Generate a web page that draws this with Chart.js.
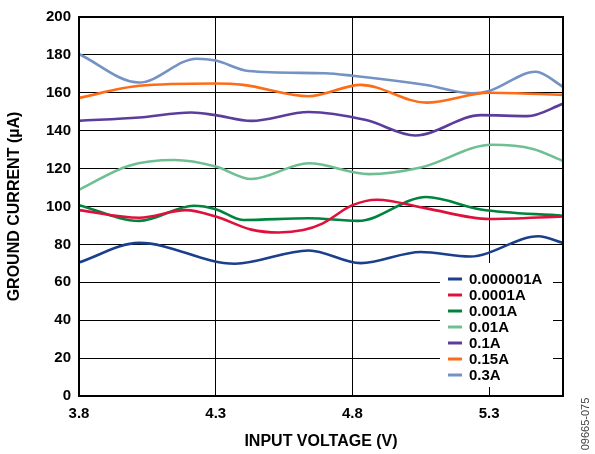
<!DOCTYPE html>
<html lang="en">
<head>
    <meta charset="UTF-8">
    <title>Ground Current vs Input Voltage</title>
    <script src="https://cdn.jsdelivr.net/npm/chart.js"></script>
    <style>
        body { margin: 0; background: #fff; }
        #wrap { width: 595px; height: 454px; }
    </style>
</head>
<body>
    <div id="wrap">
        <canvas id="gndChart" width="595" height="454"></canvas>
    </div>

    <script>
        // load currents (legend labels)
        var loadLabels = ['0.000001A', '0.0001A', '0.001A', '0.01A', '0.1A', '0.15A', '0.3A'];
        var lineColors = ['#1c3f8c', '#e0103c', '#00843d', '#6fbf92', '#5c3d9c', '#ff6c17', '#7492c4'];

        // x tick labels (V)
        var voltTicks = [3.8, 4.3, 4.8, 5.3];

        // input voltage (V) / ground current (uA)
        var v_1uA   = [3.8, 4.02, 4.37, 4.64, 4.83, 5.05, 5.23, 5.48, 5.57];
        var i_1uA   = [70.5, 80.8, 69.8, 76.8, 70.1, 76.0, 73.6, 84.3, 80.8];

        var v_100uA = [3.8, 4.02, 4.19, 4.3, 4.43, 4.53, 4.62, 4.69, 4.8, 4.89, 5.07, 5.3, 5.57];
        var i_100uA = [98.1, 94.1, 98.1, 94.7, 87.8, 86.3, 87.6, 91.0, 100.7, 103.6, 99.0, 93.4, 94.7];

        var v_1mA   = [3.8, 4.02, 4.22, 4.3, 4.4, 4.64, 4.82, 5.07, 5.27, 5.57];
        var i_1mA   = [100.7, 92.4, 100.4, 98.6, 92.9, 93.8, 92.4, 105.0, 98.4, 95.1];

        var v_10mA  = [3.8, 3.98, 4.15, 4.3, 4.43, 4.64, 4.86, 5.05, 5.31, 5.46, 5.57];
        var i_10mA  = [108.8, 121.4, 124.5, 121.1, 114.5, 122.8, 117.1, 120.6, 132.6, 130.4, 124.0];

        var v_100mA = [3.8, 4.02, 4.21, 4.3, 4.43, 4.64, 4.85, 5.03, 5.27, 5.44, 5.57];
        var i_100mA = [145.2, 147.0, 149.6, 148.2, 145.2, 149.9, 145.6, 137.5, 148.2, 147.7, 154.2];

        var v_150mA = [3.8, 4.02, 4.3, 4.4, 4.64, 4.83, 5.07, 5.3, 5.57];
        var i_150mA = [157.3, 163.7, 164.9, 164.2, 158.2, 164.2, 154.8, 160.0, 158.9];

        var v_300mA = [3.8, 4.02, 4.23, 4.3, 4.42, 4.7, 4.8, 5.07, 5.24, 5.3, 5.47, 5.57];
        var i_300mA = [180.5, 165.4, 178.0, 177.0, 171.5, 170.3, 169.0, 164.1, 159.7, 161.0, 171.1, 163.2];

        var voltSets = [v_1uA, v_100uA, v_1mA, v_10mA, v_100mA, v_150mA, v_300mA];
        var currSets = [i_1uA, i_100uA, i_1mA, i_10mA, i_100mA, i_150mA, i_300mA];

        var FONT = '"Liberation Sans", Arial, sans-serif';

        function toPoints(xs, ys) {
            return xs.map(function (x, k) { return { x: x, y: ys[k] }; });
        }

        var datasets = loadLabels.map(function (lbl, n) {
            return {
                label: lbl,
                data: toPoints(voltSets[n], currSets[n]),
                borderColor: lineColors[n],
                backgroundColor: lineColors[n],
                borderWidth: 2.6,
                pointRadius: 0,
                fill: false,
                cubicInterpolationMode: 'monotone'
            };
        });

        // frame, in-plot legend and the figure code on the right edge
        var extrasPlugin = {
            id: 'extras',
            afterDraw: function (chart) {
                var ctx = chart.ctx;
                var a = chart.chartArea;
                ctx.save();

                // plot frame
                ctx.strokeStyle = '#000';
                ctx.lineWidth = 2;
                ctx.strokeRect(a.left, a.top, a.right - a.left, a.bottom - a.top);

                // legend box
                var bx = a.right - 123, by = a.bottom - 133;
                ctx.fillStyle = '#fff';
                ctx.fillRect(bx, by, 113, 124);
                ctx.font = 'bold 15px ' + FONT;
                ctx.textBaseline = 'middle';
                ctx.textAlign = 'left';
                chart.data.datasets.forEach(function (ds, n) {
                    var yy = by + 16 + n * 16;
                    ctx.strokeStyle = ds.borderColor;
                    ctx.lineWidth = 3;
                    ctx.beginPath();
                    ctx.moveTo(bx + 8, yy);
                    ctx.lineTo(bx + 22, yy);
                    ctx.stroke();
                    ctx.fillStyle = '#000';
                    ctx.fillText(ds.label, bx + 29, yy + 1);
                });

                // figure number
                ctx.translate(586, 424);
                ctx.rotate(-Math.PI / 2);
                ctx.font = '11px ' + FONT;
                ctx.fillStyle = '#444';
                ctx.textAlign = 'center';
                ctx.fillText('09665-075', 0, 0);
                ctx.restore();
            }
        };

        var ctx = document.getElementById('gndChart').getContext('2d');
        new Chart(ctx, {
            type: 'line',
            data: { datasets: datasets },
            plugins: [extrasPlugin],
            options: {
                responsive: false,
                animation: false,
                devicePixelRatio: 1,
                layout: { padding: { top: 10, right: 32, left: 0, bottom: 0 } },
                plugins: {
                    legend: { display: false },
                    tooltip: { enabled: false }
                },
                scales: {
                    x: {
                        type: 'linear',
                        min: 3.8,
                        max: 5.57,
                        afterBuildTicks: function (scale) {
                            scale.ticks = voltTicks.map(function (v) { return { value: v }; });
                        },
                        afterFit: function (scale) { scale.height = 58; },
                        grid: { color: '#000', lineWidth: 1, drawTicks: false },
                        border: { display: false },
                        ticks: {
                            padding: 9,
                            color: '#000',
                            font: { family: FONT, size: 15, weight: 'bold' },
                            callback: function (v) { return v.toFixed(1); }
                        },
                        title: {
                            display: true,
                            text: 'INPUT VOLTAGE (V)',
                            color: '#000',
                            font: { family: FONT, size: 16, weight: 'bold' },
                            padding: { top: 4, bottom: 3 }
                        }
                    },
                    y: {
                        min: 0,
                        max: 200,
                        afterFit: function (scale) { scale.width = 79; },
                        grid: { color: '#000', lineWidth: 1, drawTicks: false },
                        border: { display: false },
                        ticks: {
                            stepSize: 20,
                            padding: 8,
                            color: '#000',
                            font: { family: FONT, size: 15, weight: 'bold' }
                        },
                        title: {
                            display: true,
                            text: 'GROUND CURRENT (µA)',
                            color: '#000',
                            font: { family: FONT, size: 16, weight: 'bold' },
                            padding: { top: 5, bottom: 4 }
                        }
                    }
                }
            }
        });
    </script>
</body>
</html>
